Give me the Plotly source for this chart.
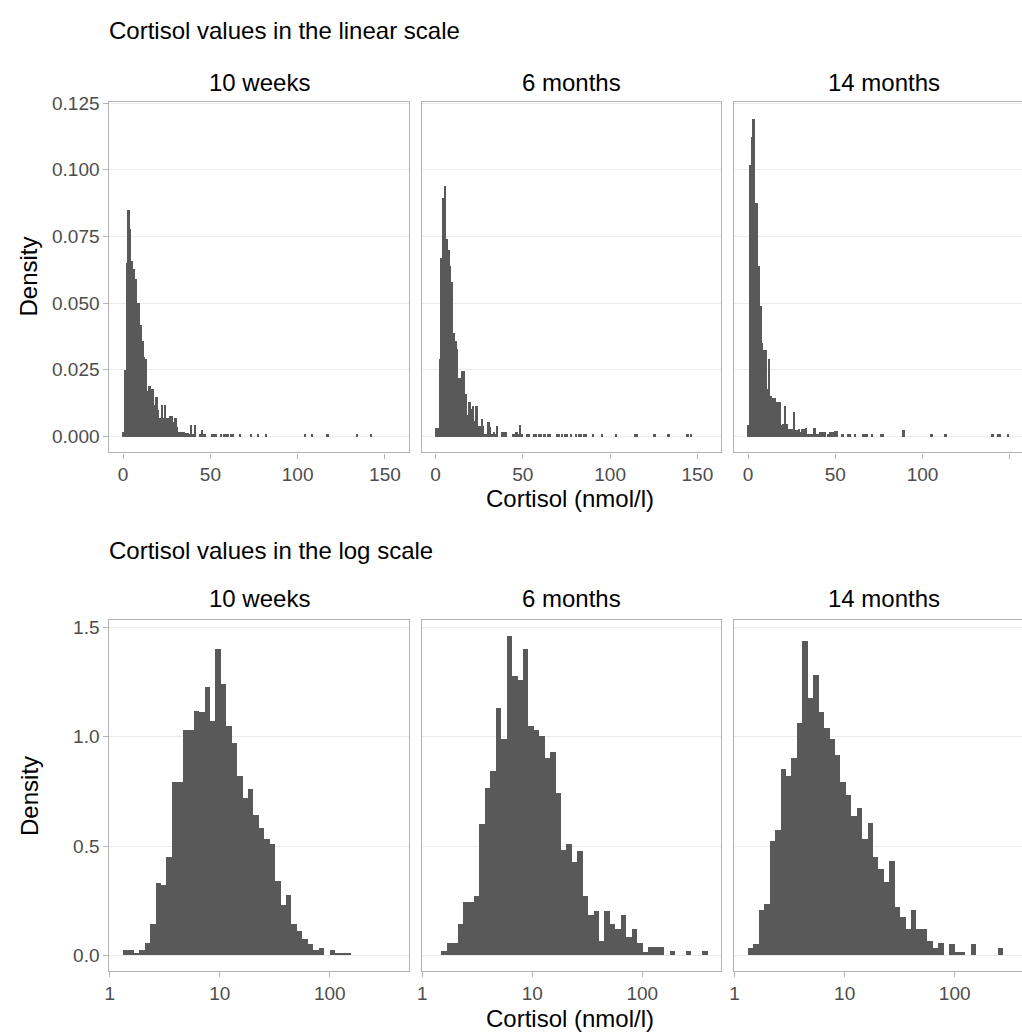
import plotly.graph_objects as go

# ---------------- data ----------------
panel_names = ["10 weeks", "6 months", "14 months"]

# linear-scale histograms: density per 1 nmol/l bin, bins start at 0
lin_binwidth = 1.0
lin_10w = [0.002, 0.025, 0.065, 0.085, 0.078, 0.066, 0.063, 0.059, 0.050, 0.050,
           0.042, 0.036, 0.030, 0.029, 0.017, 0.019, 0.018, 0.018, 0.012, 0.015,
           0.010, 0.007, 0.012, 0.007, 0.012, 0.007, 0.007, 0.008, 0.008, 0.0055,
           0.007, 0.0037, 0.002, 0.002, 0.002, 0.002, 0.0015, 0.0015, 0.0012, 0.0045,
           0.0012, 0.0045]
lin_10w_tail_bins = [44, 45, 46, 47, 51, 52, 53, 56, 58, 59, 60, 62, 63, 67, 73, 77,
                     82, 104, 108, 117, 134, 142]
lin_10w_tail = [0.0012, 0.0025, 0.0012, 0.0012, 0.0012, 0.0012, 0.0012, 0.0012,
                0.0012, 0.0012, 0.0012, 0.0012, 0.0012, 0.0012, 0.0012, 0.0012,
                0.0012, 0.0012, 0.0012, 0.0012, 0.0012, 0.0012]

lin_6m = [0.0033, 0.0033, 0.029, 0.067, 0.0895, 0.094, 0.074, 0.070, 0.064, 0.058,
          0.039, 0.036, 0.033, 0.022, 0.022, 0.0245, 0.0245, 0.016, 0.0083, 0.0129,
          0.0104, 0.0114, 0.006, 0.0114, 0.004, 0.004, 0.0067, 0.004, 0.001, 0.001,
          0.0055, 0.0037, 0.001, 0.002, 0.001, 0.004, 0.0, 0.0, 0.0018, 0.0018,
          0.0018, 0.0, 0.0, 0.0, 0.001, 0.001, 0.0018, 0.001, 0.0045, 0.001]
lin_6m_tail_bins = [52, 53, 56, 57, 59, 60, 62, 64, 65, 69, 70, 72, 74, 75, 77, 80,
                    82, 83, 85, 86, 90, 95, 103, 114, 115, 125, 133, 144, 146]
lin_6m_tail = [0.001, 0.001, 0.001, 0.001, 0.001, 0.001, 0.001, 0.001, 0.001, 0.001,
               0.001, 0.001, 0.001, 0.001, 0.001, 0.001, 0.001, 0.001, 0.001, 0.001,
               0.001, 0.001, 0.001, 0.001, 0.001, 0.001, 0.001, 0.001, 0.001]

lin_14m = [0.0043, 0.102, 0.1125, 0.119, 0.0877, 0.0877, 0.064, 0.049, 0.035, 0.0325,
           0.0325, 0.0178, 0.029, 0.0153, 0.0145, 0.0145, 0.0129, 0.0129, 0.0129, 0.0043,
           0.005, 0.0116, 0.005, 0.003, 0.003, 0.003, 0.0092, 0.0025, 0.0025, 0.003,
           0.0018, 0.003, 0.003, 0.0035, 0.0012, 0.0012, 0.0012, 0.0012, 0.0035, 0.0012,
           0.0012, 0.0018, 0.0018, 0.0018, 0.0018, 0.0, 0.0012, 0.0018, 0.0018, 0.0018,
           0.0022, 0.0022]
lin_14m_tail_bins = [54, 57, 58, 61, 66, 67, 68, 71, 76, 77, 89, 105, 113, 140, 143, 144, 149]
lin_14m_tail = [0.0012, 0.0012, 0.0012, 0.0012, 0.0012, 0.0012, 0.0012, 0.0012, 0.0012,
                0.0012, 0.0025, 0.0012, 0.0012, 0.0012, 0.0012, 0.0012, 0.0012]

# log-scale histograms: density per log10 unit, bins in log10(cortisol)
log_first_edge = 0.125
log_binwidth = 0.0494
log_10w = [0.024, 0.024, 0.008, 0.024, 0.057, 0.144, 0.33, 0.32, 0.45, 0.79,
           0.79, 1.03, 1.03, 1.115, 1.11, 1.225, 1.07, 1.40, 1.24, 1.05,
           0.97, 0.82, 0.72, 0.76, 0.64, 0.58, 0.53, 0.51, 0.34, 0.23,
           0.275, 0.144, 0.11, 0.072, 0.05, 0.024, 0.033, 0.0, 0.024, 0.008,
           0.008, 0.008]
log_6m = [0.0, 0.02, 0.057, 0.057, 0.144, 0.242, 0.242, 0.27, 0.60, 0.764,
          0.84, 1.13, 0.99, 1.46, 1.275, 1.26, 1.40, 1.046, 1.03, 1.00,
          0.90, 0.93, 0.74, 0.48, 0.51, 0.425, 0.475, 0.27, 0.185, 0.20,
          0.062, 0.20, 0.144, 0.117, 0.185, 0.08, 0.117, 0.057, 0.015, 0.037,
          0.037, 0.037, 0.0, 0.018, 0.0, 0.0, 0.018, 0.0, 0.0, 0.018]
log_14m = [0.032, 0.05, 0.204, 0.234, 0.52, 0.573, 0.85, 0.82, 0.90, 1.06,
           1.437, 1.177, 1.28, 1.11, 1.037, 0.99, 0.917, 0.79, 0.733, 0.636,
           0.673, 0.53, 0.605, 0.448, 0.395, 0.332, 0.43, 0.219, 0.174, 0.117,
           0.204, 0.117, 0.117, 0.062, 0.032, 0.053, 0.0, 0.05, 0.015, 0.015,
           0.0, 0.05, 0.0, 0.0, 0.0, 0.0, 0.032]

lin_ticks = [0, 50, 100, 150]
log_tickvals = [0, 1, 2]
log_ticktext = ["1", "10", "100"]
lin_yticks = [0, 0.025, 0.05, 0.075, 0.1, 0.125]
log_yticks = [0, 0.5, 1.0, 1.5]

# ---------------- layout geometry (pixels) ----------------
W, H = 1022, 1033
FONT = "Liberation Sans, Arial, sans-serif"
BAR = "#595959"
BORDER = "#b3b3b3"
GRID = "#ebebeb"
TICKC = "#4d4d4d"

px_cols = [(105, 406), (419, 720), (733, 1022)]
full_w = 301
row_top = (93.5, 447.3)
row_bot = (616.7, 970.7)

lin_xrange = (-7.8, 163.8)
log_xrange = (-0.002, 2.72)

fig = go.Figure()


def xdom(c):
    a, b = px_cols[c]
    return [a / W, b / W]


def ydom(r):
    t, b = r
    return [1 - b / H, 1 - t / H]


def xr(rng, c):
    a, b = px_cols[c]
    span = rng[1] - rng[0]
    return [rng[0], rng[0] + span * (b - a) / full_w]


lin_sets = [(lin_10w, lin_10w_tail_bins, lin_10w_tail),
            (lin_6m, lin_6m_tail_bins, lin_6m_tail),
            (lin_14m, lin_14m_tail_bins, lin_14m_tail)]
log_sets = [log_10w, log_6m, log_14m]

for c, (main, tb, tv) in enumerate(lin_sets):
    idx = c + 1
    xs = [(k + 0.5) * lin_binwidth for k in range(len(main))] + [(k + 0.5) * lin_binwidth for k in tb]
    ys = list(main) + list(tv)
    fig.add_trace(go.Bar(x=xs, y=ys, width=lin_binwidth, marker=dict(color=BAR, line=dict(width=0)),
                         xaxis=f"x{idx}", yaxis=f"y{idx}", showlegend=False))

for c, vals in enumerate(log_sets):
    idx = c + 4
    xs = [log_first_edge + (k + 0.5) * log_binwidth for k in range(len(vals))]
    fig.add_trace(go.Bar(x=xs, y=vals, width=log_binwidth, marker=dict(color=BAR, line=dict(width=0)),
                         xaxis=f"x{idx}", yaxis=f"y{idx}", showlegend=False))

axis_font = dict(family=FONT, size=19, color=TICKC)
layout = dict(width=W, height=H, autosize=False, margin=dict(l=0, r=0, t=0, b=0, pad=0),
              paper_bgcolor="white", plot_bgcolor="white", bargap=0,
              font=dict(family=FONT, color="black"))

for i in range(6):
    idx = i + 1
    c = i % 3
    top = i < 3
    key = "" if idx == 1 else str(idx)
    xa = dict(domain=xdom(c), anchor=f"y{idx}", showgrid=False, zeroline=False,
              showline=True, linecolor=BORDER, linewidth=1.3, mirror=True,
              ticks="outside", ticklen=5, tickcolor=BORDER, tickwidth=1.3,
              tickfont=axis_font, fixedrange=True)
    if top:
        xa.update(range=xr(lin_xrange, c), tickmode="array", tickvals=lin_ticks,
                  ticktext=[str(v) for v in lin_ticks])
    else:
        xa.update(range=xr(log_xrange, c), tickmode="array", tickvals=log_tickvals,
                  ticktext=log_ticktext)
    ya = dict(domain=ydom(row_top if top else row_bot), anchor=f"x{idx}",
              showgrid=True, gridcolor=GRID, gridwidth=1.3, zeroline=False,
              showline=True, linecolor=BORDER, linewidth=1.3, mirror=(c != 2),
              tickfont=axis_font, fixedrange=True, tickmode="array")
    if top:
        ya.update(range=[-0.00595, 0.1255], tickvals=lin_yticks,
                  ticktext=[f"{v:.3f}" for v in lin_yticks])
    else:
        ya.update(range=[-0.073, 1.533], tickvals=log_yticks,
                  ticktext=[f"{v:.1f}" for v in log_yticks])
    if c == 0:
        ya.update(ticks="outside", ticklen=5, tickcolor=BORDER, tickwidth=1.3, showticklabels=True)
    else:
        ya.update(ticks="", showticklabels=False)
    layout[f"xaxis{key}"] = xa
    layout[f"yaxis{key}"] = ya

ann = []


def add_text(text, xpx, ypx, size, xanchor="center", angle=0):
    ann.append(dict(text=text, x=xpx / W, y=1 - ypx / H, xref="paper", yref="paper",
                    xanchor=xanchor, yanchor="middle", showarrow=False, textangle=angle,
                    font=dict(family=FONT, size=size, color="black")))


add_text("Cortisol values in the linear scale", 103, 22, 24, xanchor="left")
add_text("Cortisol values in the log scale", 103, 546, 24, xanchor="left")
centers = [255.5, 569.5, 883.5]
for c, name in enumerate(panel_names):
    add_text(name, centers[c], 74, 24)
    add_text(name, centers[c], 595, 24)
add_text("Cortisol (nmol/l)", 568, 494, 24)
add_text("Cortisol (nmol/l)", 568, 1018, 24)
add_text("Density", 24, 270, 24, angle=-90)
add_text("Density", 24, 794, 24, angle=-90)

layout["annotations"] = ann
fig.update_layout(**layout)
fig.write_html("out.html", config={"displayModeBar": False},
               post_script="document.documentElement.style.margin='0';"
                           "document.documentElement.style.padding='0';"
                           "document.body.style.margin='0';document.body.style.padding='0';"
                           "document.body.style.overflow='hidden';")
